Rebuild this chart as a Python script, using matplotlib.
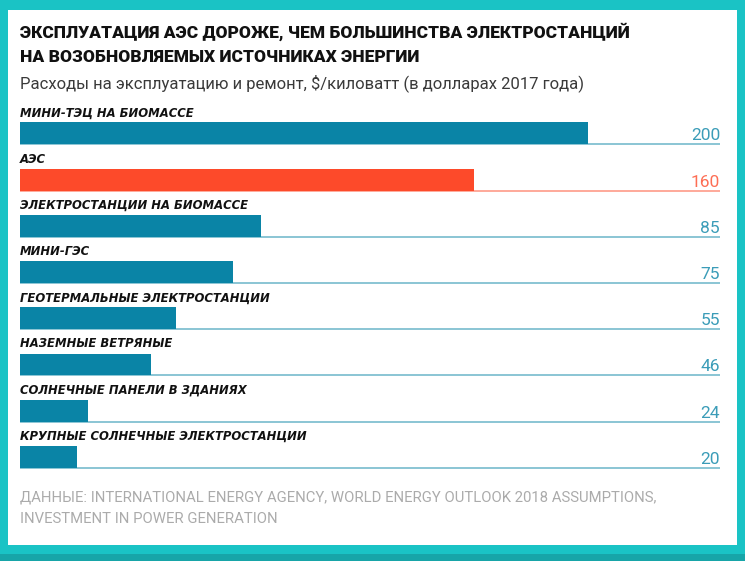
import matplotlib.pyplot as plt
from matplotlib.patches import Rectangle

# data
categories = [
    "МИНИ-ТЭЦ НА БИОМАССЕ",
    "АЭС",
    "ЭЛЕКТРОСТАНЦИИ НА БИОМАССЕ",
    "МИНИ-ГЭС",
    "ГЕОТЕРМАЛЬНЫЕ ЭЛЕКТРОСТАНЦИИ",
    "НАЗЕМНЫЕ ВЕТРЯНЫЕ",
    "СОЛНЕЧНЫЕ ПАНЕЛИ В ЗДАНИЯХ",
    "КРУПНЫЕ СОЛНЕЧНЫЕ ЭЛЕКТРОСТАНЦИИ",
]
values = [200, 160, 85, 75, 55, 46, 24, 20]
highlight = "АЭС"

title_lines = ["ЭКСПЛУАТАЦИЯ АЭС ДОРОЖЕ, ЧЕМ БОЛЬШИНСТВА ЭЛЕКТРОСТАНЦИЙ",
               "НА ВОЗОБНОВЛЯЕМЫХ ИСТОЧНИКАХ ЭНЕРГИИ"]
subtitle = "Расходы на эксплуатацию и ремонт, $/киловатт (в долларах 2017 года)"
source_lines = ["ДАННЫЕ: INTERNATIONAL ENERGY AGENCY, WORLD ENERGY OUTLOOK 2018 ASSUMPTIONS,",
                "INVESTMENT IN POWER GENERATION"]

BLUE = "#0a84a6"
RED = "#fd4a2a"
TEAL = "#1ac3c5"

W, H = 745, 561
fig = plt.figure(figsize=(W / 100, H / 100), dpi=100)
fig.patch.set_facecolor(TEAL)
# darker strip along the bottom of the frame
fig.patches.append(Rectangle((0, 0), 1, 7 / H, transform=fig.transFigure,
                             facecolor="#17a5a8", edgecolor="none"))

# white card
bg = fig.add_axes([8 / W, 1 - 545 / H, 729 / W, 535 / H])
bg.set_facecolor("white")
bg.set_xticks([])
bg.set_yticks([])
for s in bg.spines.values():
    s.set_visible(False)
bg.set_zorder(0)


def px(x, y):
    return x / W, 1 - y / H


fig.text(*px(20, 38), title_lines[0], fontsize=12.5, fontweight="heavy",
         family=["Roboto", "DejaVu Sans"], color="#111111", va="baseline", ha="left")
fig.text(*px(20, 62), title_lines[1], fontsize=12.5, fontweight="heavy",
         family=["Roboto", "DejaVu Sans"], color="#111111", va="baseline", ha="left")
fig.text(*px(20, 88), subtitle, fontsize=12, family=["Roboto", "DejaVu Sans"],
         color="#3a3a3a", va="baseline", ha="left")
for i, line in enumerate(source_lines):
    fig.text(*px(20, 502 + 21 * i), line, fontsize=10.7,
             family=["Roboto", "DejaVu Sans"], color="#ababab",
             va="baseline", ha="left")

# axes: x 20..720 px, y 100..480 px
xmax = 246.5
ax = fig.add_axes([20 / W, 1 - 480 / H, 700 / W, 380 / H])
ax.set_zorder(1)
ax.patch.set_visible(False)
ax.set_xlim(0, xmax)
ax.set_ylim(7.5, -0.725)
ax.axis("off")

bh = 0.476
ys = list(range(len(values)))
colors = [RED if c == highlight else BLUE for c in categories]
ax.barh(ys, values, height=bh, color=colors, zorder=2)
for y, v, c, col in zip(ys, values, categories, colors):
    ax.hlines(y + bh / 2, 0, xmax, color=col, alpha=0.6, linewidth=1.1, zorder=1)
    ax.text(0, y - bh / 2 - 0.13, c, fontsize=8.4, fontweight="bold",
            style="italic", color="#111111", va="baseline", ha="left")
    ax.text(xmax, y + bh / 2 - 0.09, str(v), fontsize=12.5,
            family=["Roboto", "DejaVu Sans"], color=col, alpha=0.8,
            va="baseline", ha="right")

fig.savefig("out.png", dpi=100, facecolor=fig.get_facecolor())
